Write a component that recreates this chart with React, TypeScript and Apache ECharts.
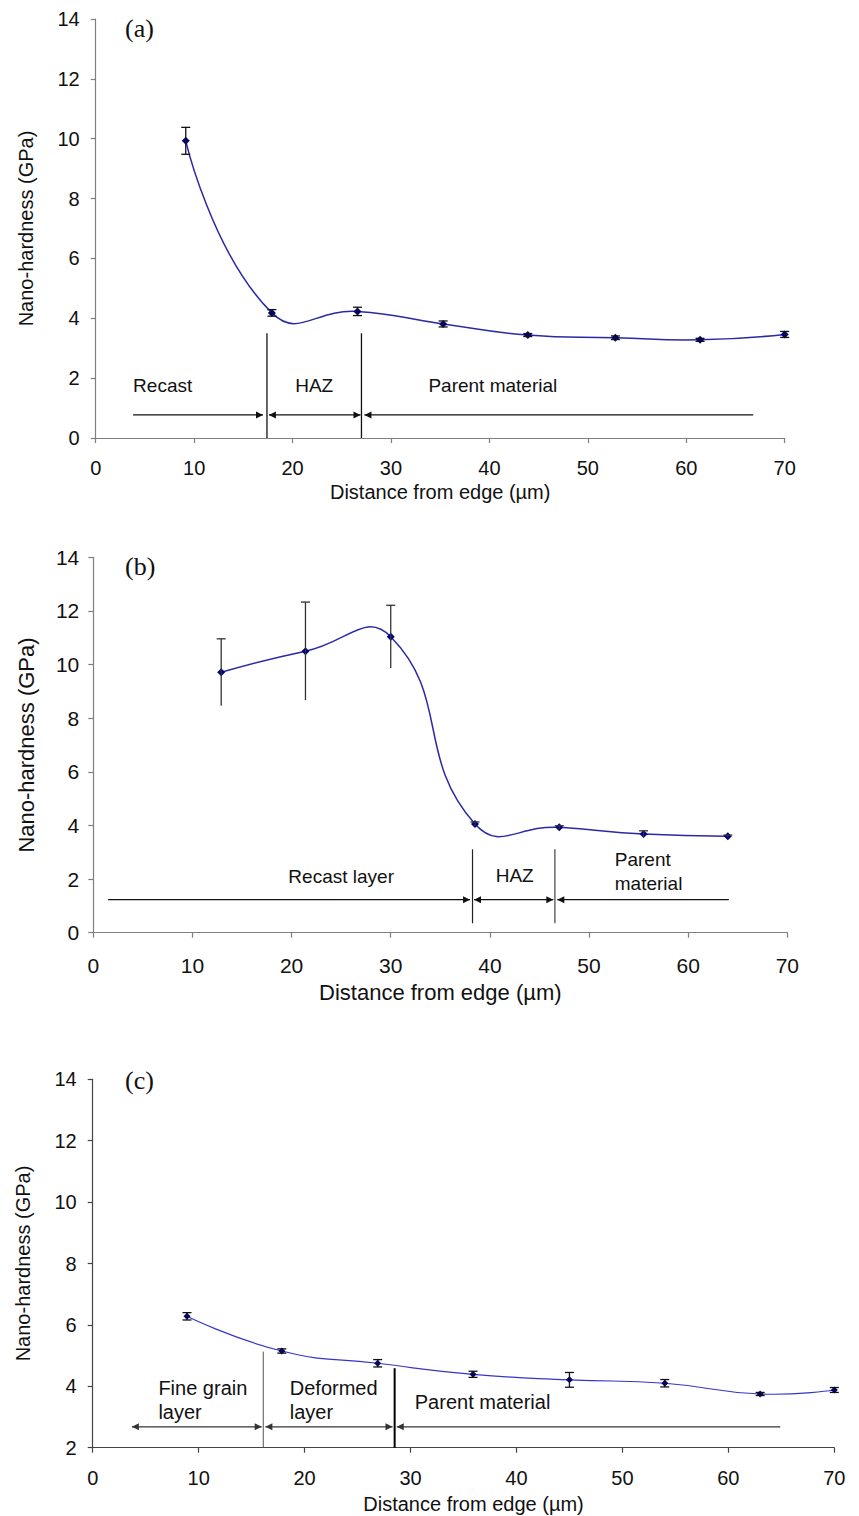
import React, { useEffect, useRef } from 'react';
import * as echarts from 'echarts';

// ---------- data ----------
const distA = [9.15, 17.9, 26.6, 35.3, 43.9, 52.8, 61.4, 70.0];
const hardA = [9.93, 4.18, 4.23, 3.81, 3.44, 3.35, 3.28, 3.46];
const errA = [0.45, 0.11, 0.14, 0.1, 0.05, 0.06, 0.05, 0.1];

const distB = [12.9, 21.4, 30.0, 38.5, 47.0, 55.5, 64.0];
const hardB = [9.71, 10.5, 11.04, 4.05, 3.93, 3.68, 3.6];
const errB = [1.25, 1.83, 1.17, 0.08, 0.06, 0.12, 0.04];

const distC = [8.9, 17.85, 26.9, 35.9, 45.0, 54.0, 63.0, 70.0];
const hardC = [6.28, 5.15, 4.75, 4.39, 4.21, 4.1, 3.75, 3.88];
const errC = [0.12, 0.07, 0.12, 0.1, 0.24, 0.12, 0.05, 0.08];

// zone dividers: [x, yFrom, yTo]
const dividersA = [[17.4, 0, 3.5], [27.0, 0, 3.5]];
const dividersB = [[38.25, 0.35, 3.11], [46.56, 0.35, 3.11]];
const dividersC = [[16.1, 2, 5.13], [28.5, 2, 4.59]];

// zone arrows: [xFrom, xTo, y, headAtStart, headAtEnd]
const arrowsA = [[3.8, 17.0, 0.77, 0, 1], [17.6, 26.9, 0.77, 1, 1], [27.3, 66.8, 0.77, 1, 0]];
const arrowsB = [[1.5, 38.0, 1.23, 0, 1], [38.4, 46.4, 1.23, 1, 1], [46.8, 64.1, 1.23, 1, 0]];
const arrowsC = [[3.7, 15.95, 2.68, 1, 1], [16.3, 28.3, 2.68, 1, 1], [28.7, 64.9, 2.68, 1, 0]];

// zone labels: [text, x, y, align]
const labelsA = [['Recast', 3.8, 1.77, 'left'], ['HAZ', 22.2, 1.77, 'center'], ['Parent material', 33.8, 1.77, 'left']];
const labelsB = [['Recast layer', 25.0, 2.09, 'center'], ['HAZ', 42.5, 2.15, 'center'], ['Parent', 52.6, 2.74, 'left'], ['material', 52.6, 1.84, 'left']];
const labelsC = [['Fine grain', 6.2, 3.94, 'left'], ['layer', 6.2, 3.17, 'left'], ['Deformed', 18.6, 3.94, 'left'], ['layer', 18.6, 3.17, 'left'], ['Parent material', 30.4, 3.5, 'left']];

const panelTags = ['(a)', '(b)', '(c)'];
const xName = 'Distance from edge (µm)';
const yName = 'Nano-hardness (GPa)';

const SANS = '"Liberation Sans", Arial, Helvetica, sans-serif';
const SERIF = '"Liberation Serif", "Times New Roman", serif';

const panels = [
  {
    dist: distA, hard: hardA, err: errA, dividers: dividersA, arrows: arrowsA, labels: labelsA,
    grid: { left: 95.7, top: 19, width: 689, height: 419 },
    yMin: 0, axisColor: '#7f7f7f', tickFont: 20, titleFont: 20, xLabelMargin: 20, yLabelMargin: 16,
    xNameGap: 44, yNameGap: 60, annFont: 19, lineColor: '#2a2aa8', lineWidth: 1.5, sym: 8,
    bottomCap: true, errColor: '#111', tagTop: 15, xNamePad: 0,
    divStyles: [{ stroke: '#111', w: 1.3 }, { stroke: '#111', w: 1.3 }], arrowColor: '#111',
  },
  {
    dist: distB, hard: hardB, err: errB, dividers: dividersB, arrows: arrowsB, labels: labelsB,
    grid: { left: 93.3, top: 557.3, width: 694, height: 375.4 },
    yMin: 0, axisColor: '#7f7f7f', tickFont: 21, titleFont: 22, xLabelMargin: 22, yLabelMargin: 14,
    xNameGap: 49, yNameGap: 56, annFont: 19, lineColor: '#2a2aa8', lineWidth: 1.5, sym: 8,
    bottomCap: false, errColor: '#333', tagTop: 553, xNamePad: 0,
    divStyles: [{ stroke: '#222', w: 1.2 }, { stroke: '#444', w: 1.2 }], arrowColor: '#111',
  },
  {
    dist: distC, hard: hardC, err: errC, dividers: dividersC, arrows: arrowsC, labels: labelsC,
    grid: { left: 92.7, top: 1079.3, width: 741.6, height: 368.4 },
    yMin: 2, axisColor: '#444', tickFont: 20, titleFont: 20, xLabelMargin: 20, yLabelMargin: 16,
    xNameGap: 46, yNameGap: 60, annFont: 20, lineColor: '#3535cc', lineWidth: 1.2, sym: 7,
    bottomCap: true, errColor: '#111', tagTop: 1067, xNamePad: 20,
    divStyles: [{ stroke: '#555', w: 1 }, { stroke: '#000', w: 2 }], arrowColor: '#333',
  },
];

function arrowHead(tip: number[], dir: number, color: string) {
  const L = 7, H = 3.5;
  return {
    type: 'polygon',
    shape: { points: [[tip[0], tip[1]], [tip[0] - dir * L, tip[1] - H], [tip[0] - dir * L, tip[1] + H]] },
    style: { fill: color },
  };
}

function buildOption() {
  const grid: any[] = [];
  const xAxis: any[] = [];
  const yAxis: any[] = [];
  const series: any[] = [];
  const graphic: any[] = [];

  panels.forEach((p, i) => {
    grid.push({ ...p.grid, containLabel: false });
    xAxis.push({
      gridIndex: i, type: 'value', min: 0, max: 70, interval: 10,
      axisLine: { show: true, onZero: false, lineStyle: { color: p.axisColor, width: 1.2 } },
      axisTick: { show: true, length: 5, inside: false, lineStyle: { color: p.axisColor, width: 1.2 } },
      axisLabel: { margin: p.xLabelMargin, fontSize: p.tickFont, color: '#111', fontFamily: SANS },
      splitLine: { show: false },
      name: xName, nameLocation: 'middle', nameGap: p.xNameGap,
      nameTextStyle: { fontSize: p.titleFont, color: '#111', fontFamily: SANS, padding: [0, 0, 0, p.xNamePad] },
    });
    yAxis.push({
      gridIndex: i, type: 'value', min: p.yMin, max: 14, interval: 2,
      axisLine: { show: true, onZero: false, lineStyle: { color: p.axisColor, width: 1.2 } },
      axisTick: { show: true, length: 5, inside: false, lineStyle: { color: p.axisColor, width: 1.2 } },
      axisLabel: { margin: p.yLabelMargin, fontSize: p.tickFont, color: '#111', fontFamily: SANS },
      splitLine: { show: false },
      name: yName, nameLocation: 'middle', nameGap: p.yNameGap,
      nameTextStyle: { fontSize: p.titleFont, color: '#111', fontFamily: SANS },
    });

    // annotations (zone dividers, arrows, labels)
    series.push({
      type: 'custom', xAxisIndex: i, yAxisIndex: i, z: 1, silent: true,
      data: [[35, 7]],
      renderItem: (_params: any, api: any) => {
        const children: any[] = [];
        p.dividers.forEach((d, k) => {
          const a = api.coord([d[0], d[1]]);
          const b = api.coord([d[0], d[2]]);
          const st = p.divStyles[k];
          children.push({ type: 'line', shape: { x1: a[0], y1: a[1], x2: b[0], y2: b[1] }, style: { stroke: st.stroke, lineWidth: st.w } });
        });
        p.arrows.forEach((ar) => {
          const s = api.coord([ar[0], ar[2]]);
          const e = api.coord([ar[1], ar[2]]);
          children.push({ type: 'line', shape: { x1: s[0], y1: s[1], x2: e[0], y2: e[1] }, style: { stroke: p.arrowColor, lineWidth: 1.3 } });
          if (ar[3]) children.push(arrowHead(s, -1, p.arrowColor));
          if (ar[4]) children.push(arrowHead(e, 1, p.arrowColor));
        });
        p.labels.forEach((lb) => {
          const c = api.coord([lb[1] as number, lb[2] as number]);
          children.push({
            type: 'text', x: c[0], y: c[1],
            style: { text: lb[0], font: `${p.annFont}px ${SANS}`, fill: '#111', align: lb[3], verticalAlign: 'middle' },
          });
        });
        return { type: 'group', children };
      },
    });

    // smoothed curve through the measured points (spline, may overshoot like the original)
    series.push({
      type: 'custom', xAxisIndex: i, yAxisIndex: i, z: 2, silent: true,
      data: p.dist.map((x, k) => [x, p.hard[k]]),
      renderItem: (params: any, api: any) => {
        if (params.dataIndex !== 0) return { type: 'group', children: [] };
        const pts = p.dist.map((x, k) => api.coord([x, p.hard[k]]));
        return {
          type: 'polyline',
          shape: { points: pts, smooth: 0.5 },
          style: { stroke: p.lineColor, lineWidth: p.lineWidth, fill: 'none' },
        };
      },
    });

    // markers
    series.push({
      type: 'line', xAxisIndex: i, yAxisIndex: i, z: 3,
      data: p.dist.map((x, k) => [x, p.hard[k]]),
      symbol: 'diamond', symbolSize: p.sym, showSymbol: true,
      lineStyle: { opacity: 0, width: 0 },
      itemStyle: { color: '#000080' },
    });

    // error bars
    series.push({
      type: 'custom', xAxisIndex: i, yAxisIndex: i, z: 4, silent: true,
      data: p.dist.map((x, k) => [x, p.hard[k], p.err[k]]),
      renderItem: (_params: any, api: any) => {
        const x = api.value(0), y = api.value(1), e = api.value(2);
        const top = api.coord([x, y + e]);
        const bot = api.coord([x, y - e]);
        const hw = 4.5;
        const st = { stroke: p.errColor, lineWidth: 1.3 };
        const children: any[] = [
          { type: 'line', shape: { x1: top[0], y1: top[1], x2: bot[0], y2: bot[1] }, style: st },
          { type: 'line', shape: { x1: top[0] - hw, y1: top[1], x2: top[0] + hw, y2: top[1] }, style: st },
        ];
        if (p.bottomCap) children.push({ type: 'line', shape: { x1: bot[0] - hw, y1: bot[1], x2: bot[0] + hw, y2: bot[1] }, style: st });
        return { type: 'group', children };
      },
    });

    graphic.push({
      type: 'text', left: 125, top: p.tagTop,
      style: { text: panelTags[i], font: `26px ${SERIF}`, fill: '#111' },
    });
  });

  return {
    animation: false,
    backgroundColor: '#ffffff',
    grid, xAxis, yAxis, series, graphic,
  };
}

export default function App() {
  const ref = useRef<HTMLDivElement>(null);
  useEffect(() => {
    document.body.style.margin = '0';
    const chart = echarts.init(ref.current as HTMLDivElement, undefined, { renderer: 'svg' });
    chart.setOption(buildOption() as any);
    return () => chart.dispose();
  }, []);
  return <div ref={ref} style={{ width: 859, height: 1516, position: 'absolute', left: 0, top: 0, background: '#fff' }} />;
}
